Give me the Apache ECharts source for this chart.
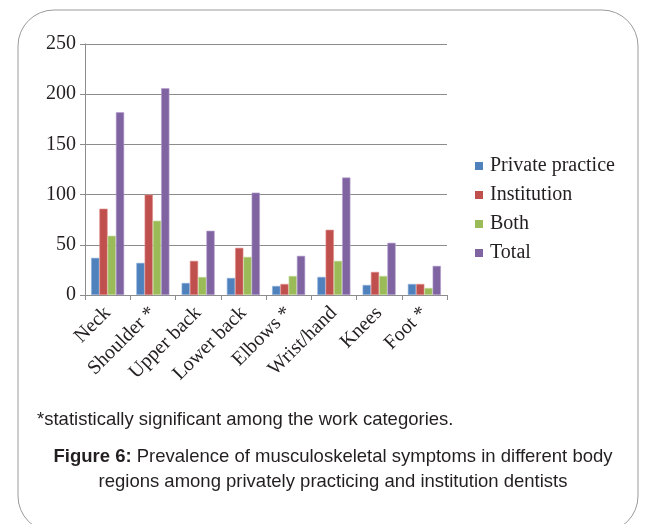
<!DOCTYPE html>
<html>
<head>
<meta charset="utf-8">
<script src="https://cdn.jsdelivr.net/npm/echarts@6/dist/echarts.min.js"></script>
<style>
  html, body { margin: 0; padding: 0; background: #fff; }
  #Root { width: 650px; height: 524px; }
</style>
</head>
<body>
<div id="Root"></div>
<script>
// body regions (x axis)
let regions = ["Neck", "Shoulder *", "Upper back", "Lower back", "Elbows *", "Wrist/hand", "Knees", "Foot *"]
// series values
let privatePractice = [37, 32, 12, 17, 9, 18, 10, 11]
let institution = [86, 100, 34, 47, 11, 65, 23, 11]
let both = [59, 74, 18, 38, 19, 34, 19, 7]
let total = [182, 206, 64, 102, 39, 117, 52, 29]
let seriesNames = ["Private practice", "Institution", "Both", "Total"]
let yTicks = [0, 50, 100, 150, 200, 250]

let colorList = ['#4f81bd', '#c0504d', '#9bbb59', '#8064a2']
let edgeList = ['#8fb1dc', '#e0908e', '#c6dd9c', '#b3a0cc']
let serif = "'Liberation Serif', 'DejaVu Serif', serif"
let sans = "'Liberation Sans', Arial, sans-serif"

let chart = echarts.init(document.getElementById("Root"))

function makeBar(name, data, i) {
    return {
        name: name,
        type: 'bar',
        data: data,
        barGap: 0,
        barCategoryGap: '27%',
        itemStyle: { color: colorList[i], borderColor: edgeList[i], borderWidth: 0.6 }
    }
}

let options = {
    animation: false,
    color: colorList,
    grid: { left: 85, right: 203, top: 44, bottom: 229, containLabel: false, outerBoundsMode: 'none' },
    legend: {
        orient: 'vertical',
        left: 470,
        top: 150,
        icon: 'rect',
        itemWidth: 8,
        itemHeight: 8,
        itemGap: 7,
        data: seriesNames,
        itemStyle: { borderWidth: 0 },
        textStyle: { fontFamily: serif, fontSize: 20, color: '#231f20', lineHeight: 22, padding: [0, 0, 0, 2] }
    },
    xAxis: {
        type: 'category',
        data: regions,
        axisLine: { lineStyle: { color: '#8c8c8c', width: 1 } },
        axisTick: { show: true, alignWithLabel: false, length: 5, lineStyle: { color: '#8c8c8c' } },
        axisLabel: { rotate: 45, interval: 0, margin: 15, fontFamily: serif, fontSize: 20, color: '#231f20' }
    },
    yAxis: {
        type: 'value',
        min: yTicks[0],
        max: yTicks[yTicks.length - 1],
        interval: 50,
        axisLine: { show: true, lineStyle: { color: '#8c8c8c' } },
        axisTick: { show: true, length: 5, lineStyle: { color: '#8c8c8c' } },
        splitLine: { lineStyle: { color: '#8c8c8c', width: 1 } },
        axisLabel: { margin: 9, fontFamily: serif, fontSize: 20, color: '#231f20' }
    },
    graphic: [
        {
            type: 'rect',
            silent: true,
            shape: { x: 18, y: 10, width: 620, height: 522, r: 36 },
            style: { fill: 'none', stroke: '#9a9a9a', lineWidth: 1 }
        },
        {
            type: 'text',
            left: 37,
            top: 410,
            style: { text: '*statistically significant among the work categories.', font: '18.5px ' + sans, fill: '#231f20' }
        },
        {
            type: 'text',
            x: 333,
            y: 444,
            style: {
                text: '{b|Figure 6:} Prevalence of musculoskeletal symptoms in different body\nregions among privately practicing and institution dentists',
                align: 'center',
                font: '18.5px ' + sans,
                fill: '#231f20',
                lineHeight: 25,
                rich: { b: { fontWeight: 'bold', fontFamily: sans, fontSize: 18.5, fill: '#231f20' } }
            }
        }
    ],
    series: [
        makeBar(seriesNames[0], privatePractice, 0),
        makeBar(seriesNames[1], institution, 1),
        makeBar(seriesNames[2], both, 2),
        makeBar(seriesNames[3], total, 3)
    ]
}

chart.setOption(options)
</script>
</body>
</html>
